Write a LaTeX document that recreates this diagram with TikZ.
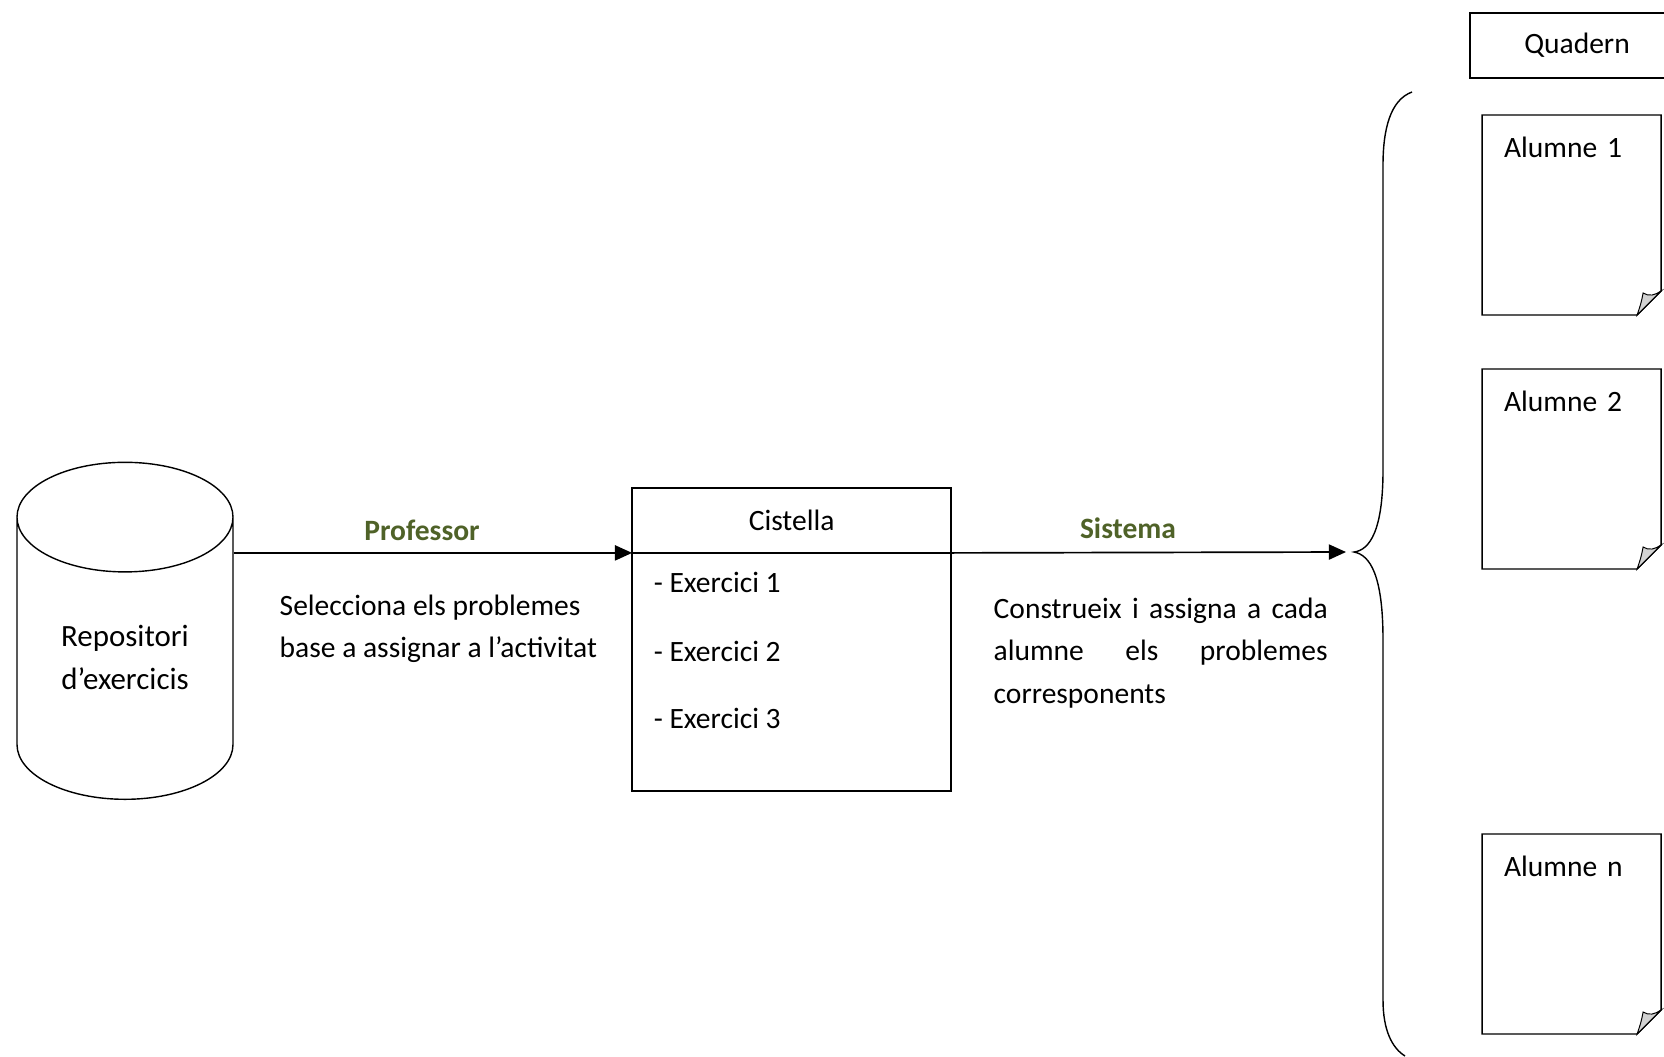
\documentclass[tikz,border=0pt]{standalone}
\usepackage{fontspec}
\setmainfont{Carlito}
\usetikzlibrary{shapes.geometric,arrows.meta,positioning}
\definecolor{verdoliva}{RGB}{79,98,40}

\begin{document}
\begin{tikzpicture}[
    font=\fontsize{21}{30}\selectfont,
    line width=1pt,
    repositori/.style={cylinder, shape border rotate=90, draw, aspect=0.8, minimum width=5.4cm, minimum height=8.425cm, align=center, text depth=0.45cm, font=\fontsize{22}{31}\selectfont},
    caixa/.style={rectangle, draw, outer sep=0pt, minimum width=7.975cm},
    exercici/.style={anchor=west, inner sep=0pt},
    full/.style={outer sep=0pt, inner xsep=0.55cm, inner ysep=0pt, text width=3.375cm, text height=1.05cm, text depth=3.95cm, align=left},
    etiqueta/.style={font=\fontsize{21}{30}\selectfont\bfseries, text=verdoliva},
    fletxa/.style={line width=1.2pt, -{Triangle[length=0.43cm,width=0.38cm]}}
]
\useasboundingbox (0,0) rectangle (41.6,-26.4);

% Repositori i cistella
\node[repositori, anchor=south] (repo) at (3.125,-20) {Repositori\\d'exercicis};
\node[caixa, minimum height=1.625cm] (cistella) at (19.79,-13.01) {Cistella};
\node[caixa, minimum height=5.95cm, below=0pt of cistella] (llista) {};
\node[exercici] (ex1) at ([xshift=0.525cm, yshift=-0.75cm]llista.north west) {- Exercici 1};
\node[exercici] (ex2) at ([xshift=0.525cm, yshift=-2.475cm]llista.north west) {- Exercici 2};
\node[exercici] (ex3) at ([xshift=0.525cm, yshift=-4.15cm]llista.north west) {- Exercici 3};

% Etiquetes de les fletxes
\node[etiqueta] (professor) at (10.55,-13.25) {Professor};
\node[etiqueta] (sistema) at (28.2,-13.2) {Sistema};
\node[anchor=west, align=left, inner sep=0pt] (selecciona) at (6.975,-15.72) {Selecciona els problemes\\base a assignar a l'activitat};
\node[anchor=west, text width=8.35cm, align=justify, inner sep=0pt] (construeix) at (24.825,-16.325) {Construeix i assigna a cada\linebreak alumne els problemes\linebreak corresponents};

% Quadern i alumnes
\node[draw, minimum width=5.35cm, minimum height=1.625cm] (quadern) at (39.425,-1.1375) {Quadern};
\node[full] (alumne1) at (39.29,-5.375) {Alumne 1};
\node[full] (alumne2) at (39.29,-11.725) {Alumne 2};
\node[full] (alumnen) at (39.29,-23.35) {Alumne n};
\foreach \p in {alumne1,alumne2,alumnen} {
  \draw (\p.north west) -- (\p.north east) -- ([yshift=0.6cm]\p.south east) -- ([xshift=-0.6cm]\p.south east) -- (\p.south west) -- cycle;
  \draw[fill=gray!35, line width=0.7pt] ([xshift=-0.6cm]\p.south east) .. controls ([shift={(-0.5,0.3)}]\p.south east) .. ([shift={(-0.45,0.55)}]\p.south east) .. controls ([shift={(-0.3,0.45)}]\p.south east) and ([shift={(-0.15,0.5)}]\p.south east) .. ([yshift=0.6cm]\p.south east) -- cycle;
}

% Clau
\coordinate (clau) at (33.85,-13.8);
\draw (35.3,-2.3) .. controls (34.75,-2.5) and (34.575,-3.25) .. (34.575,-4.125) -- (34.575,-11.75) .. controls (34.575,-13.25) and (34.25,-13.75) .. (clau) .. controls (34.25,-13.875) and (34.575,-14.375) .. (34.575,-16) -- (34.575,-25) .. controls (34.575,-25.75) and (34.8,-26.2) .. (35.125,-26.4);

% Fletxes
\draw[fletxa] (repo.east |- cistella.south) -- (cistella.south west);
\draw[fletxa] (cistella.south east) -- ([xshift=-0.2cm]clau);

\end{tikzpicture}
\end{document}
